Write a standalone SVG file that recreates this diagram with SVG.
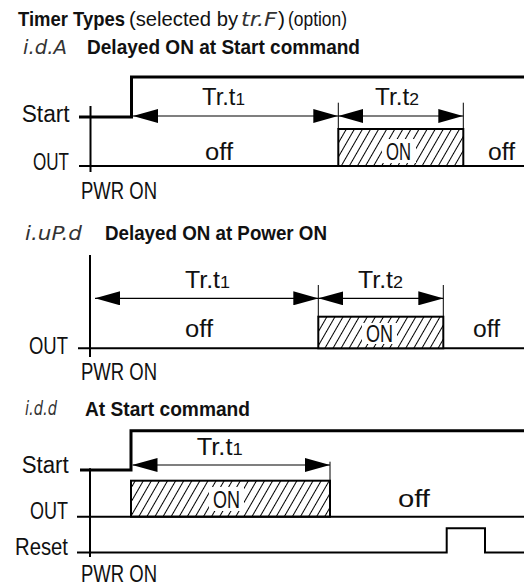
<svg xmlns="http://www.w3.org/2000/svg" width="524" height="588" viewBox="0 0 524 588">
<style>
.lbl{font-family:"Liberation Sans",Arial,sans-serif;font-size:23.5px;fill:#111}
.hd{font-family:"Liberation Sans",Arial,sans-serif;font-size:21px;font-weight:bold;fill:#111}
.nm{font-family:"Liberation Sans",Arial,sans-serif;font-size:21px;fill:#111}
.seg{font-family:"DejaVu Sans",sans-serif;font-style:italic;font-weight:200;font-size:19px;fill:#333}
.sig{fill:none;stroke:#000;stroke-width:3}
.ax{fill:none;stroke:#000;stroke-width:2}
.dim{fill:none;stroke:#000;stroke-width:1.2;marker-start:url(#ah);marker-end:url(#ah)}
.tick{stroke:#000;stroke-width:1}
.box{fill:url(#hatch);stroke:#000;stroke-width:2}
.sub{font-size:17px}
.wb{fill:#fff}
</style>
<defs>
<pattern id="hatch" width="7" height="7" patternUnits="userSpaceOnUse" patternTransform="rotate(30)">
<rect width="7" height="7" fill="#fff"/>
<line x1="0.5" y1="0" x2="0.5" y2="7" stroke="#000" stroke-width="1"/>
</pattern>
<marker id="ah" viewBox="0 0 25 14" refX="25" refY="7" markerWidth="25" markerHeight="14" markerUnits="userSpaceOnUse" orient="auto-start-reverse">
<path d="M0,0 L25,7 L0,14 z" fill="#000"/>
</marker>
</defs>

<g id="title">
<text class="hd" x="18" y="26" textLength="107" lengthAdjust="spacingAndGlyphs">Timer Types</text>
<text class="nm" x="129" y="26" textLength="109" lengthAdjust="spacingAndGlyphs">(selected by</text>
<text class="seg" x="241" y="26" textLength="36" lengthAdjust="spacingAndGlyphs">tr.F</text>
<text class="nm" x="278" y="26">)</text>
<text class="nm" x="288" y="26" textLength="59" lengthAdjust="spacingAndGlyphs">(option)</text>
</g>

<g id="diagram-idA">
<text class="seg" x="23" y="54" textLength="44" lengthAdjust="spacingAndGlyphs">i.d.A</text>
<text class="hd" x="87" y="54" textLength="273" lengthAdjust="spacingAndGlyphs">Delayed ON at Start command</text>
<g id="d1-signals">
<path class="sig" d="M79,117 H131.5 V77 H524"/>
<line class="ax" x1="90.5" y1="106" x2="90.5" y2="172"/>
<line class="ax" x1="79" y1="166" x2="524" y2="166"/>
<rect class="box" x="338.3" y="129" width="125" height="37"/>
<rect class="wb" x="382" y="139" width="34" height="24"/>
</g>
<g id="d1-connectors">
<line class="tick" x1="338.3" y1="102.7" x2="338.3" y2="129"/>
<line class="tick" x1="463.3" y1="102.7" x2="463.3" y2="129"/>
<line class="dim" x1="133" y1="116" x2="338.3" y2="116"/>
<line class="dim" x1="338.3" y1="116" x2="463.3" y2="116"/>
</g>
<text class="lbl" x="21.7" y="121.5" textLength="48" lengthAdjust="spacingAndGlyphs">Start</text>
<text class="lbl" x="33" y="170" textLength="36" lengthAdjust="spacingAndGlyphs">OUT</text>
<text class="lbl" x="81" y="198.5" textLength="76" lengthAdjust="spacingAndGlyphs">PWR ON</text>
<text class="lbl" x="202" y="105" textLength="43" lengthAdjust="spacingAndGlyphs">Tr.t<tspan class="sub">1</tspan></text>
<text class="lbl" x="375" y="105" textLength="44" lengthAdjust="spacingAndGlyphs">Tr.t<tspan class="sub">2</tspan></text>
<text class="lbl" x="205" y="160" textLength="28" lengthAdjust="spacingAndGlyphs">off</text>
<text class="lbl" x="386" y="160" textLength="25" lengthAdjust="spacingAndGlyphs">ON</text>
<text class="lbl" x="488" y="160" textLength="27" lengthAdjust="spacingAndGlyphs">off</text>
</g>

<g id="diagram-iuPd">
<text class="seg" x="25" y="240" textLength="57" lengthAdjust="spacingAndGlyphs">i.uP.d</text>
<text class="hd" x="105" y="240" textLength="222" lengthAdjust="spacingAndGlyphs">Delayed ON at Power ON</text>
<g id="d2-signals">
<line class="ax" x1="90" y1="255" x2="90" y2="357"/>
<line class="ax" x1="78" y1="348.3" x2="524" y2="348.3"/>
<rect class="box" x="318.3" y="316.7" width="125" height="31.6"/>
<rect class="wb" x="362" y="323" width="35" height="21"/>
</g>
<g id="d2-connectors">
<line class="tick" x1="318.3" y1="285" x2="318.3" y2="316.7"/>
<line class="tick" x1="443.3" y1="285" x2="443.3" y2="316.7"/>
<line class="dim" x1="95" y1="298.3" x2="318.3" y2="298.3"/>
<line class="dim" x1="318.3" y1="298.3" x2="443.3" y2="298.3"/>
</g>
<text class="lbl" x="29" y="354" textLength="39" lengthAdjust="spacingAndGlyphs">OUT</text>
<text class="lbl" x="81" y="380" textLength="76" lengthAdjust="spacingAndGlyphs">PWR ON</text>
<text class="lbl" x="185" y="288.3" textLength="45" lengthAdjust="spacingAndGlyphs">Tr.t<tspan class="sub">1</tspan></text>
<text class="lbl" x="358" y="288.3" textLength="45" lengthAdjust="spacingAndGlyphs">Tr.t<tspan class="sub">2</tspan></text>
<text class="lbl" x="185" y="336.7" textLength="28" lengthAdjust="spacingAndGlyphs">off</text>
<text class="lbl" x="366" y="341.7" textLength="27" lengthAdjust="spacingAndGlyphs">ON</text>
<text class="lbl" x="473" y="336.7" textLength="27" lengthAdjust="spacingAndGlyphs">off</text>
</g>

<g id="diagram-idd">
<text class="seg" x="25" y="415" textLength="32" lengthAdjust="spacingAndGlyphs">i.d.d</text>
<text class="hd" x="85" y="416" textLength="165" lengthAdjust="spacingAndGlyphs">At Start command</text>
<g id="d3-signals">
<path class="sig" d="M80,470 H131 V430.7 H524"/>
<line class="ax" x1="90" y1="468.3" x2="90" y2="557"/>
<rect class="box" x="131" y="480.7" width="199" height="36"/>
<rect class="wb" x="209" y="487" width="35" height="24"/>
<line class="ax" x1="77" y1="516.7" x2="524" y2="516.7"/>
<path class="ax" d="M77,552.5 H446.7 V528.3 H485 V552.5 H524"/>
</g>
<g id="d3-connectors">
<line class="tick" x1="330" y1="461.7" x2="330" y2="480.7"/>
<line class="dim" x1="132.5" y1="465" x2="330" y2="465"/>
</g>
<text class="lbl" x="21.7" y="473" textLength="47" lengthAdjust="spacingAndGlyphs">Start</text>
<text class="lbl" x="30" y="519" textLength="38" lengthAdjust="spacingAndGlyphs">OUT</text>
<text class="lbl" x="15" y="555" textLength="53" lengthAdjust="spacingAndGlyphs">Reset</text>
<text class="lbl" x="81" y="581.7" textLength="76" lengthAdjust="spacingAndGlyphs">PWR ON</text>
<text class="lbl" x="196.7" y="455" textLength="46" lengthAdjust="spacingAndGlyphs">Tr.t<tspan class="sub">1</tspan></text>
<text class="lbl" x="213" y="508.3" textLength="27" lengthAdjust="spacingAndGlyphs">ON</text>
<text class="lbl" x="398" y="506.7" textLength="32" lengthAdjust="spacingAndGlyphs">off</text>
</g>
</svg>
